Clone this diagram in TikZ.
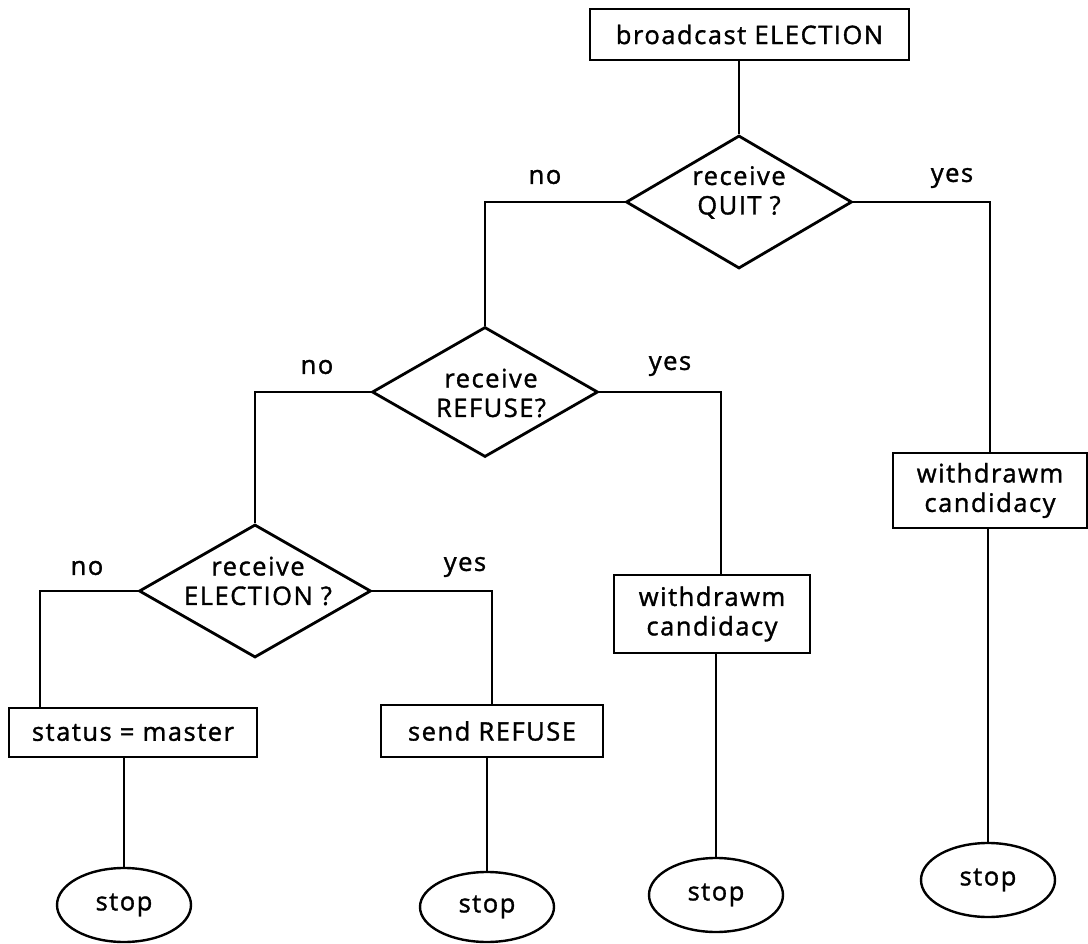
\documentclass[tikz,border=0pt]{standalone}
\usepackage{fontspec}
\setmainfont{Open Sans}[LetterSpace=6,FakeBold=1.4]
\usetikzlibrary{shapes.geometric}
\begin{document}
\begin{tikzpicture}[x=1pt,y=-1pt,
  every node/.style={font=\fontsize{25.5}{29.5}\selectfont},
  box/.style={draw,rectangle,line width=2.6pt,inner sep=0pt,align=center},
  dec/.style={draw,diamond,line width=2.8pt,inner sep=0pt},
  stopnode/.style={draw,ellipse,line width=2.4pt,inner sep=0pt,minimum width=134pt,minimum height=74pt},
  conn/.style={line width=2.4pt},
  lab/.style={inner sep=0pt}]
\useasboundingbox (0,0) rectangle (1088,944);

\node[box,minimum width=319pt,minimum height=51pt] (top) at (749.5,34.5) {broadcast ELECTION};
\node[dec,minimum width=226pt,minimum height=133pt,
  label={[lab,align=center,yshift=9.5pt]center:receive\\QUIT ?}] (q1) at (739,202) {};
\node[dec,minimum width=226pt,minimum height=130pt,
  label={[lab,align=center,xshift=6pt,yshift=-1pt]center:receive\\REFUSE?}] (q2) at (485,392) {};
\node[dec,minimum width=232pt,minimum height=133pt,
  label={[lab,align=center,xshift=3pt,yshift=10pt]center:receive\\ELECTION ?}] (q3) at (255,591) {};
\node[box,minimum width=194pt,minimum height=75pt] (w2) at (990,490.5) {withdrawm\\candidacy};
\node[box,minimum width=196pt,minimum height=78pt] (w1) at (712,614) {withdrawm\\candidacy};
\node[box,minimum width=248pt,minimum height=49pt] (status) at (133,732.5) {status = master};
\node[box,minimum width=222pt,minimum height=52pt] (send) at (492,731) {send REFUSE};

\node[stopnode] (stop1) at (124,905) {stop};
\node[stopnode,minimum height=70pt] (stop2) at (487,907) {stop};
\node[stopnode] (stop3) at (716,895) {stop};
\node[stopnode] (stop4) at (988,880) {stop};

\node[lab] (n1) at (545,177) {no};
\node[lab] (y1) at (952,178) {yes};
\node[lab] (n2) at (317,367) {no};
\node[lab] (y2) at (670,366) {yes};
\node[lab] (n3) at (87,568) {no};
\node[lab] (y3) at (465,567) {yes};

\draw[conn] (q1.north |- top.south) -- (q1.north);
\draw[conn] (q1.west) -| (q2.north);
\draw[conn] (q1.east) -| (w2.north);
\draw[conn] (q2.west) -| (q3.north);
\draw[conn] (q2.east) -| ([xshift=9pt]w1.north);
\draw[conn] (q3.west) -| ([xshift=-93pt]status.north);
\draw[conn] (q3.east) -| (send.north);
\draw[conn] (stop1.north |- status.south) -- (stop1.north);
\draw[conn] (stop2.north |- send.south) -- (stop2.north);
\draw[conn] (stop3.north |- w1.south) -- (stop3.north);
\draw[conn] (stop4.north |- w2.south) -- (stop4.north);
\end{tikzpicture}
\end{document}
